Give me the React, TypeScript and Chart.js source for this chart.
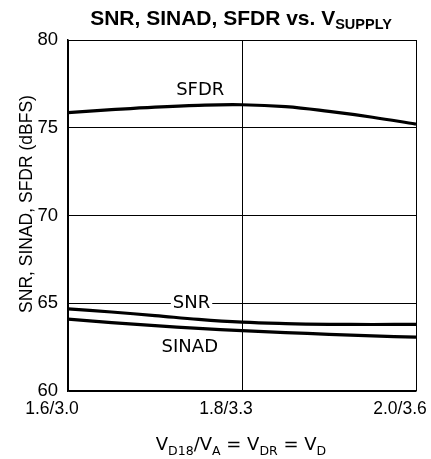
import React, { useEffect, useRef } from "react";
import { Chart, registerables } from "chart.js";

Chart.register(...registerables);

const X_VALUES = [1.6, 1.65, 1.7, 1.75, 1.8, 1.85, 1.9, 1.95, 2.0];
const SFDR = [75.86, 76.03, 76.18, 76.28, 76.31, 76.2, 75.93, 75.6, 75.21];
const SNR = [64.68, 64.5, 64.3, 64.08, 63.92, 63.84, 63.8, 63.79, 63.8];
const SINAD = [64.1, 63.9, 63.72, 63.57, 63.44, 63.33, 63.23, 63.14, 63.07];
const X_TICKS = [1.6, 1.8, 2.0];
const X_TICK_LABELS = ["1.6/3.0", "1.8/3.3", "2.0/3.6"];
const Y_MIN = 60;
const Y_MAX = 80;
const Y_STEP = 5;
const SERIES_LABELS = [
  { text: "SFDR", x: 1.752, y: 77.12, bg: false },
  { text: "SNR", x: 1.742, y: 65.0, bg: true },
  { text: "SINAD", x: 1.74, y: 62.5, bg: false },
];

type Part = { t: string; sub?: boolean };

function drawParts(
  ctx: CanvasRenderingContext2D,
  parts: Part[],
  cx: number,
  baseline: number,
  mainFont: string,
  subFont: string,
  subDrop: number
) {
  let w = 0;
  for (const p of parts) {
    ctx.font = p.sub ? subFont : mainFont;
    w += ctx.measureText(p.t).width;
  }
  let x = cx - w / 2;
  ctx.textAlign = "left";
  ctx.textBaseline = "alphabetic";
  for (const p of parts) {
    ctx.font = p.sub ? subFont : mainFont;
    ctx.fillText(p.t, x, baseline + (p.sub ? subDrop : 0));
    x += ctx.measureText(p.t).width;
  }
}

const textPlugin = {
  id: "textPlugin",
  afterDraw(chart: any) {
    const ctx: CanvasRenderingContext2D = chart.ctx;
    const xs = chart.scales.x;
    const ys = chart.scales.y;
    ctx.save();
    ctx.fillStyle = "#000";
    // title
    drawParts(
      ctx,
      [{ t: "SNR, SINAD, SFDR vs. V" }, { t: "SUPPLY", sub: true }],
      241,
      25,
      "bold 21px 'Liberation Sans', Arial, sans-serif",
      "bold 14.5px 'Liberation Sans', Arial, sans-serif",
      4
    );
    // x title
    drawParts(
      ctx,
      [
        { t: "V" },
        { t: "D18", sub: true },
        { t: "/V" },
        { t: "A", sub: true },
        { t: " = V" },
        { t: "DR", sub: true },
        { t: " = V" },
        { t: "D", sub: true },
      ],
      241,
      450,
      "18px 'DejaVu Sans', sans-serif",
      "12.5px 'DejaVu Sans', sans-serif",
      5
    );
    // y title
    ctx.save();
    ctx.translate(27, 204);
    ctx.rotate(-Math.PI / 2);
    ctx.font = "17.5px 'Liberation Sans', Arial, sans-serif";
    ctx.textAlign = "center";
    ctx.textBaseline = "middle";
    ctx.fillText("SNR, SINAD, SFDR (dBFS)", 0, 0);
    ctx.restore();
    // series labels
    ctx.font = "18px 'DejaVu Sans', sans-serif";
    ctx.textAlign = "center";
    ctx.textBaseline = "middle";
    for (const l of SERIES_LABELS) {
      const px = xs.getPixelForValue(l.x);
      const py = ys.getPixelForValue(l.y);
      if (l.bg) {
        const w = ctx.measureText(l.text).width;
        ctx.fillStyle = "#fff";
        ctx.fillRect(px - w / 2 - 2, py - 8, w + 4, 16);
        ctx.fillStyle = "#000";
      }
      ctx.fillText(l.text, px, py);
    }
    ctx.restore();
  },
};

export default function App() {
  const ref = useRef<HTMLCanvasElement>(null);
  useEffect(() => {
    if (!ref.current) return;
    const mk = (vals: number[]) => X_VALUES.map((x, i) => ({ x, y: vals[i] }));
    const ds = (label: string, vals: number[]) => ({
      label,
      data: mk(vals),
      borderColor: "#000",
      borderWidth: 3.2,
      pointRadius: 0,
      tension: 0.4,
      fill: false,
    });
    const chart = new Chart(ref.current, {
      type: "line",
      data: { datasets: [ds("SFDR", SFDR), ds("SNR", SNR), ds("SINAD", SINAD)] },
      options: {
        animation: false,
        responsive: false,
        layout: { padding: { left: 0, right: 15, top: 40, bottom: 0 } },
        plugins: { legend: { display: false }, title: { display: false }, tooltip: { enabled: false } },
        scales: {
          x: {
            type: "linear",
            min: X_TICKS[0],
            max: X_TICKS[X_TICKS.length - 1],
            afterBuildTicks: (s: any) => {
              s.ticks = X_TICKS.map((v) => ({ value: v }));
            },
            afterFit: (s: any) => {
              s.height = 68;
              s.paddingLeft = 0;
              s.paddingRight = 0;
            },
            ticks: {
              autoSkip: false,
              maxRotation: 0,
              padding: 8,
              labelOffset: -16,
              color: "#000",
              font: { family: "'Liberation Sans', Arial, sans-serif", size: 17.5 },
              callback: (v: any) => {
                const i = X_TICKS.findIndex((t) => Math.abs(t - Number(v)) < 1e-6);
                return i >= 0 ? X_TICK_LABELS[i] : "";
              },
            },
            grid: { color: "#000", lineWidth: 1, drawTicks: false },
            border: { display: true, color: "#000", width: 1.5 },
          },
          y: {
            min: Y_MIN,
            max: Y_MAX,
            afterFit: (s: any) => {
              s.width = 68;
              s.paddingTop = 0;
              s.paddingBottom = 0;
            },
            ticks: {
              stepSize: Y_STEP,
              padding: 10,
              color: "#000",
              font: { family: "'Liberation Sans', Arial, sans-serif", size: 18.5 },
            },
            grid: { color: "#000", lineWidth: 1, drawTicks: false },
            border: { display: true, color: "#000", width: 1.5 },
          },
        },
      },
      plugins: [textPlugin],
    });
    return () => chart.destroy();
  }, []);
  return (
    <div style={{ position: "fixed", left: 0, top: 0, width: 431, height: 459, background: "#fff" }}>
      <canvas ref={ref} width={431} height={459} style={{ display: "block" }} />
    </div>
  );
}
